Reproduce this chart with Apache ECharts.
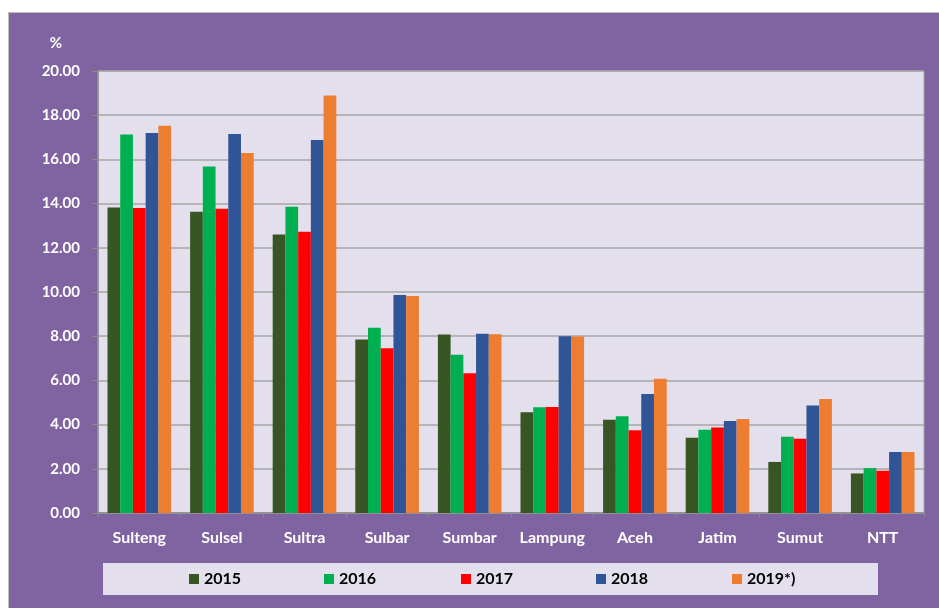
<!DOCTYPE html>
<html lang="id">

<head>
  <meta charset="UTF-8">
  <title>Chart</title>
  <script src="https://cdn.jsdelivr.net/npm/echarts@6/dist/echarts.min.js"></script>
  <style>
    body { margin: 0; background: #fff; }
    #main {
      position: absolute; left: 8px; top: 12px;
      width: 931px; height: 596px;
      background: #8064A2;
      border-top: 1px solid #bfbfbf; border-left: 1px solid #bfbfbf;
      box-sizing: border-box;
    }
  </style>
</head>

<body>
  <div id="main"></div>

  <script>
    var provinces = ['Sulteng', 'Sulsel', 'Sultra', 'Sulbar', 'Sumbar', 'Lampung', 'Aceh', 'Jatim', 'Sumut', 'NTT']
    var years = ['2015', '2016', '2017', '2018', '2019*)']
    var colors = ['#375623', '#00B050', '#FF0000', '#2F5597', '#ED7D31']

    var v2015 = [13.82, 13.63, 12.60, 7.85, 8.08, 4.56, 4.22, 3.41, 2.31, 1.79]
    var v2016 = [17.13, 15.68, 13.86, 8.38, 7.16, 4.79, 4.38, 3.77, 3.45, 2.03]
    var v2017 = [13.80, 13.77, 12.73, 7.46, 6.32, 4.80, 3.74, 3.87, 3.36, 1.91]
    var v2018 = [17.20, 17.15, 16.88, 9.86, 8.11, 8.00, 5.39, 4.16, 4.86, 2.76]
    var v2019 = [17.52, 16.29, 18.89, 9.82, 8.09, 7.99, 6.07, 4.25, 5.16, 2.76]
    var values = [v2015, v2016, v2017, v2018, v2019]

    var font = 'Lato'
    var legendX = [180, 315, 452, 587, 723]

    var mCharts = echarts.init(document.getElementById('main'))

    var series = years.map(function (y, i) {
      return {
        name: y,
        type: 'bar',
        data: values[i],
        barGap: '0%',
        barCategoryGap: '23%',
        itemStyle: { color: colors[i] }
      }
    })

    // one legend per item so the spacing matches the original
    var legends = years.map(function (y, i) {
      return {
        data: [y],
        left: legendX[i],
        top: 558,
        padding: 0,
        itemWidth: 10,
        itemHeight: 10,
        icon: 'rect',
        selectedMode: false,
        textStyle: { color: '#000', fontFamily: font, fontWeight: 'bold', fontSize: 16 }
      }
    })

    var option = {
      animation: false,
      textStyle: { fontFamily: font },
      grid: {
        left: 89, top: 58, width: 826, height: 442,
        show: true,
        backgroundColor: '#E4DFEC',
        borderColor: '#A6A6A6',
        borderWidth: 1
      },
      legend: legends,
      graphic: [
        {
          type: 'rect',
          shape: { x: 94, y: 550, width: 775, height: 32 },
          style: { fill: '#E4DFEC' }
        },
        {
          type: 'text',
          x: 47, y: 30,
          style: {
            text: '%', fill: '#fff', font: 'bold 15px Lato',
            textAlign: 'center', textVerticalAlign: 'middle'
          }
        }
      ],
      xAxis: {
        type: 'category',
        data: provinces,
        axisLine: { lineStyle: { color: '#8c8c8c', width: 1.5 } },
        axisTick: { show: true, length: 4, lineStyle: { color: '#8c8c8c' } },
        axisLabel: { color: '#fff', fontWeight: 'bold', fontSize: 16, margin: 17, fontFamily: font, interval: 0 }
      },
      yAxis: {
        type: 'value',
        min: 0,
        max: 20,
        interval: 2,
        axisLine: { show: true, lineStyle: { color: '#8c8c8c', width: 1.5 } },
        axisTick: { show: true, length: 6, lineStyle: { color: '#8c8c8c' } },
        axisLabel: {
          color: '#fff', fontWeight: 'bold', fontSize: 15, margin: 18, fontFamily: font,
          formatter: function (v) { return v.toFixed(2) }
        },
        splitLine: { lineStyle: { color: '#A6A6A6', width: 1.5 } }
      },
      series: series
    }
    mCharts.setOption(option)
  </script>
</body>

</html>
